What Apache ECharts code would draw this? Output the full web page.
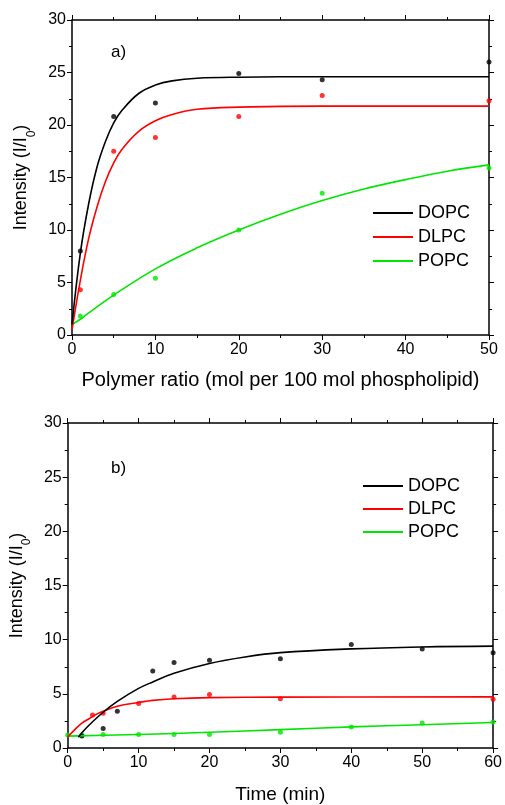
<!DOCTYPE html>
<html><head><meta charset="utf-8">
<script src="https://cdn.jsdelivr.net/npm/echarts@6/dist/echarts.min.js"></script>
<style>html,body{margin:0;padding:0;background:#fff}#c{width:505px;height:805px}</style>
</head><body><div id="c"></div>
<script>
// Panel a: measured points
var aX = [1, 5, 10, 20, 30, 50];
var aDOPC = [8.0, 20.8, 22.1, 24.9, 24.3, 26.0];
var aDLPC = [4.3, 17.5, 18.8, 20.8, 22.8, 22.3];
var aPOPC = [1.8, 3.85, 5.4, 10.0, 13.5, 15.9];
// Panel a: fitted curves
var aFitDOPCx = [0, 1, 2, 3, 4, 5, 6, 8, 10, 12, 15, 20, 30, 40, 50];
var aFitDOPCy = [1.0, 7.8, 12.5, 16.0, 18.4, 20.2, 21.4, 23.0, 23.8, 24.2, 24.45, 24.55, 24.6, 24.6, 24.6];
var aFitDLPCx = [0, 1, 2, 3, 4, 5, 6, 8, 10, 12, 15, 20, 30, 40, 50];
var aFitDLPCy = [0.5, 5.2, 9.2, 12.2, 14.6, 16.4, 17.7, 19.4, 20.4, 21.0, 21.5, 21.7, 21.8, 21.8, 21.8];
var aFitPOPCx = [0, 1, 2, 5, 10, 15, 20, 25, 30, 35, 40, 45, 50];
var aFitPOPCy = [1.0, 1.5, 2.1, 3.8, 6.3, 8.3, 10.0, 11.5, 12.8, 13.9, 14.8, 15.6, 16.2];
// Panel b: measured points
var bDOPCx = [2, 5, 7, 12, 15, 20, 30, 40, 50, 60];
var bDOPCy = [1.1, 1.8, 3.4, 7.1, 7.9, 8.1, 8.25, 9.55, 9.15, 8.8];
var bDLPCx = [3.5, 5, 10, 15, 20, 30, 60];
var bDLPCy = [3.05, 3.2, 4.1, 4.7, 4.95, 4.55, 4.5];
var bPOPCx = [0, 2, 5, 10, 15, 20, 30, 40, 50, 60];
var bPOPCy = [1.2, 1.2, 1.25, 1.25, 1.25, 1.25, 1.45, 1.95, 2.3, 2.4];
// Panel b: fitted curves
var bFitDOPCx = [1.5, 2, 3, 5, 7, 10, 12, 15, 20, 25, 30, 40, 50, 60];
var bFitDOPCy = [1.0, 1.4, 2.1, 3.3, 4.3, 5.5, 6.1, 6.9, 7.8, 8.4, 8.8, 9.15, 9.33, 9.4];
var bFitDLPCx = [0, 1, 2, 3, 4, 5, 7, 10, 12, 15, 20, 30, 60];
var bFitDLPCy = [1.0, 1.7, 2.3, 2.7, 3.1, 3.4, 3.85, 4.2, 4.4, 4.55, 4.65, 4.7, 4.72];
var bFitPOPCx = [0, 10, 20, 30, 40, 50, 60];
var bFitPOPCy = [1.1, 1.25, 1.45, 1.7, 1.95, 2.15, 2.35];

var names = ['DOPC', 'DLPC', 'POPC'];
var colors = ['#000000', '#ff0000', '#00e600'];
var FONT = 'Liberation Sans, Arial, sans-serif';

function zip(xs, ys) { return xs.map(function (x, i) { return [x, ys[i]]; }); }

var axLine = { show: true, onZero: false, lineStyle: { color: '#000', width: 1.5 } };
function xAx(grid, max, pos, labels, name, nameGap, nameSize) {
  return {
    type: 'value', gridIndex: grid, min: 0, max: max, interval: 10, position: pos,
    axisLine: axLine, splitLine: { show: false },
    axisTick: { show: true, length: 5, lineStyle: { color: '#000', width: 1 } },
    minorTick: { show: true, splitNumber: 2, length: 3, lineStyle: { color: '#000', width: 1 } },
    axisLabel: { show: labels, color: '#000', fontSize: 16, fontFamily: FONT, margin: 7 },
    name: labels ? name : '', nameLocation: 'middle', nameGap: nameGap,
    nameTextStyle: { color: '#000', fontSize: nameSize || 19, fontFamily: FONT }
  };
}
function yAx(grid, pos, labels) {
  return {
    type: 'value', gridIndex: grid, min: 0, max: 30, interval: 5, position: pos,
    axisLine: axLine, splitLine: { show: false },
    axisTick: { show: true, length: 5, lineStyle: { color: '#000', width: 1 } },
    minorTick: { show: true, splitNumber: 2, length: 3, lineStyle: { color: '#000', width: 1 } },
    axisLabel: { show: labels, color: '#000', fontSize: 16, fontFamily: FONT, margin: 6 },
    name: labels ? '{t|Intensity (I/I}{s|0}{t|)}' : '', nameLocation: 'middle', nameGap: 35,
    nameTextStyle: { color: '#000', fontSize: 18, fontFamily: FONT,
      rich: { t: { fontSize: 18, fontFamily: FONT, color: '#000' },
              s: { fontSize: 12, fontFamily: FONT, color: '#000', verticalAlign: 'bottom', padding: [0, 0, -7, 0] } } }
  };
}

var series = [];
var fitsA = [zip(aFitDOPCx, aFitDOPCy), zip(aFitDLPCx, aFitDLPCy), zip(aFitPOPCx, aFitPOPCy)];
var ptsA = [zip(aX, aDOPC), zip(aX, aDLPC), zip(aX, aPOPC)];
var fitsB = [zip(bFitDOPCx, bFitDOPCy), zip(bFitDLPCx, bFitDLPCy), zip(bFitPOPCx, bFitPOPCy)];
var ptsB = [zip(bDOPCx, bDOPCy), zip(bDLPCx, bDLPCy), zip(bPOPCx, bPOPCy)];
[[fitsA, ptsA, 0, 0], [fitsB, ptsB, 2, 2]].forEach(function (p) {
  for (var i = 2; i >= 0; i--) {
    series.push({ type: 'scatter', name: names[i] + ' data', xAxisIndex: p[2], yAxisIndex: p[3],
      data: p[1][i], symbolSize: 5, itemStyle: { color: colors[i] }, clip: false, silent: true });
  }
  for (var j = 2; j >= 0; j--) {
    series.push({ type: 'line', name: names[j], xAxisIndex: p[2], yAxisIndex: p[3],
      data: p[0][j], smooth: 0.4, showSymbol: false, symbol: 'none',
      lineStyle: { color: colors[j], width: 1.6 }, itemStyle: { color: colors[j] }, silent: true });
  }
});

var legendCommon = {
  orient: 'vertical', icon: 'rect', itemWidth: 40, itemHeight: 2, padding: 0,
  data: names, selectedMode: false,
  textStyle: { color: '#000', fontSize: 18, fontFamily: FONT, lineHeight: 18 }
};

var option = {
  animation: false,
  backgroundColor: '#fff',
  grid: [
    { left: 72, right: 16, top: 20, bottom: 470 },
    { left: 67, right: 10, top: 423, bottom: 57 }
  ],
  xAxis: [
    xAx(0, 50, 'bottom', true, 'Polymer ratio (mol per 100 mol phospholipid)', 35, 20),
    xAx(0, 50, 'top', false, '', 0),
    xAx(1, 60, 'bottom', true, 'Time (min)', 37, 19),
    xAx(1, 60, 'top', false, '', 0)
  ],
  yAxis: [yAx(0, 'left', true), yAx(0, 'right', false), yAx(1, 'left', true), yAx(1, 'right', false)],
  legend: [
    Object.assign({ left: 373, top: 204, itemGap: 6 }, legendCommon),
    Object.assign({ left: 363, top: 477, itemGap: 5 }, legendCommon)
  ],
  graphic: [
    { type: 'text', left: 111, top: 44, style: { text: 'a)', fontSize: 17, fontFamily: FONT, fill: '#000' } },
    { type: 'text', left: 111, top: 460, style: { text: 'b)', fontSize: 17, fontFamily: FONT, fill: '#000' } }
  ],
  series: series
};
var chart = echarts.init(document.getElementById('c'), null, { renderer: 'canvas' });
chart.setOption(option);
</script>
</body></html>
